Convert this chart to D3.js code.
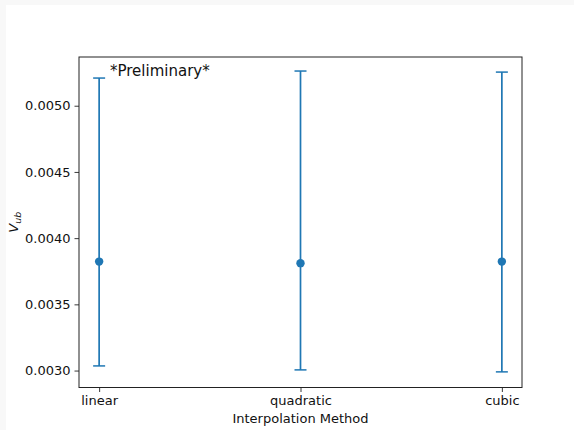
<!DOCTYPE html>
<html>
<head>
<meta charset="utf-8">
<script src="https://cdn.jsdelivr.net/npm/d3@7"></script>
<style>
  body { margin: 0; background: #f8f8f8; }
  text { font-family: "DejaVu Sans", sans-serif; }
</style>
</head>
<body>
<div id="chart"></div>
<script>
// data
const methods = ["linear", "quadratic", "cubic"];
const vubValues = [0.003823, 0.003811, 0.003823];
const errLow = [0.000788, 0.000806, 0.000833];
const errHigh = [0.001386, 0.001451, 0.001431];
const yTicks = [0.0030, 0.0035, 0.0040, 0.0045, 0.0050];

const svg = d3.select("#chart")
    .append("svg")
    .attr("width", 574)
    .attr("height", 430)
    .style("display", "block");

// white figure area, page is light gray around it
svg.append("rect")
    .attr("x", 6).attr("y", 5)
    .attr("width", 576).attr("height", 432)
    .attr("fill", "white");

const axLeft = 79, axRight = 522, axTop = 57, axBottom = 387.5;

const x = d3.scalePoint()
    .domain(methods)
    .range([axLeft, axRight])
    .padding(0.1);

const y = d3.scaleLinear()
    .domain([0.002872, 0.005368])
    .range([axBottom, axTop]);

const color = "#1f77b4";

// error bars
const g = svg.append("g");
methods.forEach((m, i) => {
    const cx = x(m);
    const y1 = y(vubValues[i] - errLow[i]);
    const y2 = y(vubValues[i] + errHigh[i]);
    g.append("line")
        .attr("x1", cx).attr("x2", cx)
        .attr("y1", y1).attr("y2", y2)
        .attr("stroke", color).attr("stroke-width", 1.7);
    [y1, y2].forEach(yy => {
        g.append("line")
            .attr("x1", cx - 6).attr("x2", cx + 6)
            .attr("y1", yy).attr("y2", yy)
            .attr("stroke", color).attr("stroke-width", 1.5);
    });
    g.append("circle")
        .attr("cx", cx)
        .attr("cy", y(vubValues[i]))
        .attr("r", 4.2)
        .attr("fill", color);
});

// axes
const xAxis = svg.append("g")
    .attr("transform", `translate(0,${axBottom})`)
    .call(d3.axisBottom(x).tickSizeOuter(0).tickSize(4.5).tickPadding(4));
const yAxis = svg.append("g")
    .attr("transform", `translate(${axLeft},0)`)
    .call(d3.axisLeft(y).tickValues(yTicks).tickFormat(d3.format(".4f"))
        .tickSizeOuter(0).tickSize(4.5).tickPadding(4));
[xAxis, yAxis].forEach(a => {
    a.select(".domain").remove();
    a.selectAll("line").attr("stroke", "#222").attr("stroke-width", 0.9);
    a.selectAll("text")
        .style("font-size", "13px")
        .style("font-family", "'DejaVu Sans', sans-serif")
        .attr("fill", "#111");
});

// frame
svg.append("rect")
    .attr("x", axLeft).attr("y", axTop)
    .attr("width", axRight - axLeft).attr("height", axBottom - axTop)
    .attr("fill", "none")
    .attr("stroke", "#222")
    .attr("stroke-width", 1);

// labels
svg.append("text")
    .attr("x", (axLeft + axRight) / 2)
    .attr("y", 423)
    .attr("text-anchor", "middle")
    .style("font-size", "13px")
    .attr("fill", "#111")
    .text("Interpolation Method");

const yl = svg.append("text")
    .attr("transform", `translate(18,${(axTop + axBottom) / 2}) rotate(-90)`)
    .attr("text-anchor", "middle")
    .style("font-size", "13px")
    .attr("fill", "#111");
yl.append("tspan").style("font-style", "italic").text("V");
yl.append("tspan").style("font-style", "italic").style("font-size", "9.5px")
    .attr("dy", 3).text("ub");

svg.append("text")
    .attr("x", 110)
    .attr("y", 76)
    .style("font-size", "15px")
    .attr("fill", "#111")
    .text("*Preliminary*");
</script>
</body>
</html>
